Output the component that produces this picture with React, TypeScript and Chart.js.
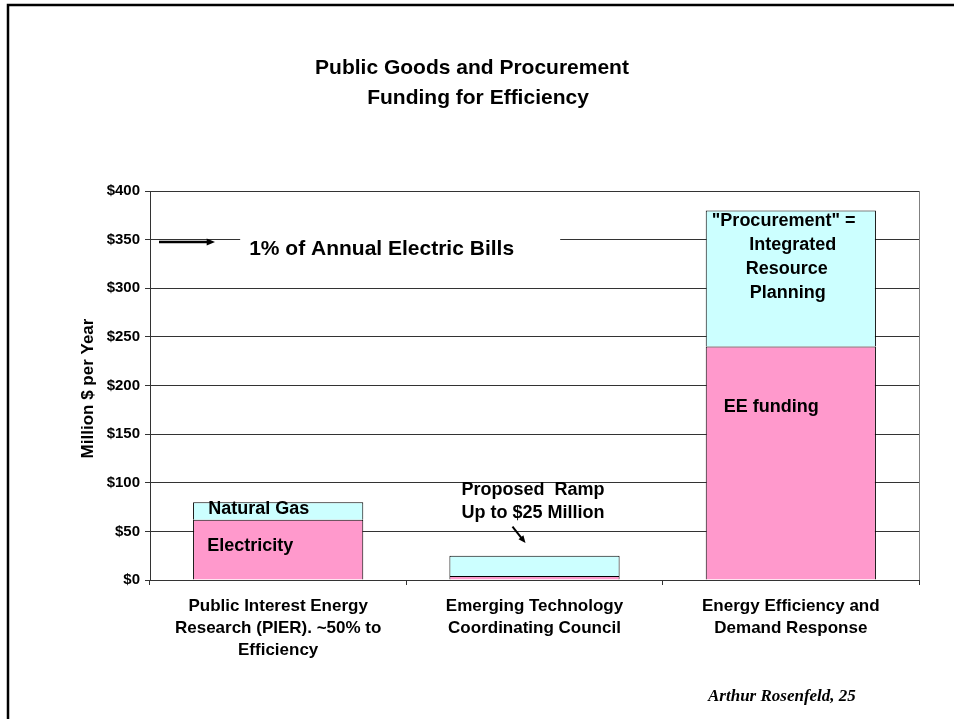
import React, { useEffect, useRef } from 'react';
import { Chart, registerables } from 'chart.js';

Chart.register(...registerables);

// ---- Data ----
const categories: string[][] = [
  ['Public Interest Energy', 'Research (PIER). ~50% to', 'Efficiency'],
  ['Emerging Technology', 'Coordinating Council'],
  ['Energy Efficiency and', 'Demand Response'],
];
const pinkSeries = [62, 4, 240]; // Electricity / ramp base / EE funding
const cyanSeries = [18, 21, 140]; // Natural Gas / ramp / Procurement
const yMin = 0;
const yMax = 400;
const yStep = 50;
const titleLines = ['Public Goods and Procurement', 'Funding for Efficiency'];
const yAxisTitle = 'Million $ per Year';
const footerText = 'Arthur Rosenfeld, 25';
const billsNote = '1% of Annual Electric Bills';
const pierNotes = ['Natural Gas', 'Electricity'];
const rampNote = ['Proposed  Ramp', 'Up to $25 Million'];
const procurementNote = ['"Procurement" =', 'Integrated', 'Resource', 'Planning'];
const eeNote = 'EE funding';

const FONT = '"Liberation Sans", Arial, Helvetica, sans-serif';
const PINK = '#FF99CC';
const CYAN = '#CCFFFF';
const GRID = '#333333';

function arrow(ctx: CanvasRenderingContext2D, x1: number, y1: number, x2: number, y2: number, w: number, head: number) {
  const ang = Math.atan2(y2 - y1, x2 - x1);
  ctx.save();
  ctx.strokeStyle = '#000';
  ctx.fillStyle = '#000';
  ctx.lineWidth = w;
  ctx.beginPath();
  ctx.moveTo(x1, y1);
  ctx.lineTo(x2 - Math.cos(ang) * head * 0.8, y2 - Math.sin(ang) * head * 0.8);
  ctx.stroke();
  ctx.beginPath();
  ctx.moveTo(x2, y2);
  ctx.lineTo(x2 - Math.cos(ang - 0.4) * head, y2 - Math.sin(ang - 0.4) * head);
  ctx.lineTo(x2 - Math.cos(ang + 0.4) * head, y2 - Math.sin(ang + 0.4) * head);
  ctx.closePath();
  ctx.fill();
  ctx.restore();
}

const decor = {
  id: 'decor',
  beforeDraw(chart: any) {
    const { ctx, width, height } = chart;
    ctx.save();
    ctx.fillStyle = '#fff';
    ctx.fillRect(0, 0, width, height);
    ctx.restore();
  },
  afterDraw(chart: any) {
    const { ctx, width, height, chartArea: ca } = chart;
    const xs = chart.scales.x;
    const ys = chart.scales.y;
    ctx.save();
    // slide frame
    ctx.strokeStyle = '#000';
    ctx.lineWidth = 2.5;
    ctx.beginPath();
    ctx.moveTo(8, height);
    ctx.lineTo(8, 5);
    ctx.lineTo(width, 5);
    ctx.stroke();

    // right border of plot area
    ctx.strokeStyle = '#808080';
    ctx.lineWidth = 1;
    ctx.beginPath();
    ctx.moveTo(Math.round(ca.right) + 0.5, ca.top);
    ctx.lineTo(Math.round(ca.right) + 0.5, ca.bottom);
    ctx.stroke();

    // title
    ctx.fillStyle = '#000';
    ctx.textAlign = 'center';
    ctx.textBaseline = 'middle';
    ctx.font = `bold 21px ${FONT}`;
    ctx.fillText(titleLines[0], width / 2 - 5, 68);
    ctx.fillText(titleLines[1], width / 2 + 1, 98);

    // y axis title
    ctx.save();
    ctx.translate(88, (ca.top + ca.bottom) / 2 + 3);
    ctx.rotate(-Math.PI / 2);
    ctx.font = `bold 17px ${FONT}`;
    ctx.fillText(yAxisTitle, 0, 0);
    ctx.restore();

    // 1% note
    const c0 = xs.getPixelForValue(0);
    const c1 = xs.getPixelForValue(1);
    const c2 = xs.getPixelForValue(2);
    const yNote = ys.getPixelForValue(340);
    ctx.fillStyle = '#fff';
    ctx.fillRect(c0 - 38, yNote - 14, 320, 28);
    ctx.fillStyle = '#000';
    ctx.textAlign = 'left';
    ctx.font = `bold 21px ${FONT}`;
    ctx.fillText(billsNote, c0 - 29, yNote);
    arrow(ctx, ca.left + 9, ys.getPixelForValue(347.5), ca.left + 65, ys.getPixelForValue(347.5), 2.5, 9);

    // PIER notes
    ctx.font = `bold 18px ${FONT}`;
    ctx.fillText(pierNotes[0], c0 - 70, ys.getPixelForValue(73));
    ctx.fillText(pierNotes[1], c0 - 71, ys.getPixelForValue(35));

    // ramp note
    ctx.fillText(rampNote[0], c1 - 73, ys.getPixelForValue(92));
    ctx.fillText(rampNote[1], c1 - 73, ys.getPixelForValue(69));
    arrow(ctx, c1 - 22, ys.getPixelForValue(55), c1 - 9, ys.getPixelForValue(38), 2, 8);

    // EE funding
    ctx.fillText(eeNote, c2 - 67, ys.getPixelForValue(178));

    // procurement
    ctx.fillText(procurementNote[0], c2 - 79, ys.getPixelForValue(369));
    ctx.textAlign = 'center';
    ctx.fillText(procurementNote[1], c2 + 2, ys.getPixelForValue(344.5));
    ctx.fillText(procurementNote[2], c2 - 4, ys.getPixelForValue(320));
    ctx.fillText(procurementNote[3], c2 - 3, ys.getPixelForValue(295));

    // footer
    ctx.textAlign = 'left';
    ctx.font = `italic bold 17px "Liberation Serif", "Times New Roman", serif`;
    ctx.fillText(footerText, 708, 697);
    ctx.restore();
  },
};

export default function App() {
  const ref = useRef<HTMLCanvasElement | null>(null);
  useEffect(() => {
    if (!ref.current) return;
    const chart = new Chart(ref.current, {
      type: 'bar',
      data: {
        labels: categories,
        datasets: [
          {
            label: 'Base',
            data: pinkSeries,
            backgroundColor: PINK,
            borderColor: '#000',
            borderWidth: 1,
            categoryPercentage: 1,
            barPercentage: 0.664,
          },
          {
            label: 'Added',
            data: cyanSeries,
            backgroundColor: CYAN,
            borderColor: '#000',
            borderWidth: 1,
            categoryPercentage: 1,
            barPercentage: 0.664,
          },
        ],
      },
      options: {
        responsive: false,
        animation: false,
        layout: { padding: { left: 0, top: 191, right: 35, bottom: 0 } },
        plugins: {
          legend: { display: false },
          tooltip: { enabled: false },
          title: { display: false },
        },
        scales: {
          x: {
            stacked: true,
            offset: true,
            grid: {
              offset: true,
              drawOnChartArea: false,
              drawTicks: true,
              tickLength: 5,
              color: GRID,
            },
            border: { display: true, color: GRID },
            ticks: {
              color: '#000',
              padding: 10,
              maxRotation: 0,
              autoSkip: false,
              font: { family: FONT, size: 17, weight: 'bold', lineHeight: 22 / 17 },
            },
            afterFit(scale: any) {
              scale.height = 139;
            },
          },
          y: {
            stacked: true,
            min: yMin,
            max: yMax,
            grid: { color: GRID, tickLength: 5 },
            border: { display: true, color: GRID },
            ticks: {
              stepSize: yStep,
              color: '#000',
              padding: 5,
              font: { family: FONT, size: 15, weight: 'bold' },
              callback: (v: any) => '$' + v,
            },
            afterFit(scale: any) {
              scale.width = 150;
            },
          },
        },
      },
      plugins: [decor],
    } as any);
    return () => chart.destroy();
  }, []);
  return (
    <div style={{ position: 'absolute', left: 0, top: 0, width: 954, height: 719 }}>
      <canvas ref={ref} width={954} height={719} style={{ display: 'block', width: 954, height: 719 }} />
    </div>
  );
}
